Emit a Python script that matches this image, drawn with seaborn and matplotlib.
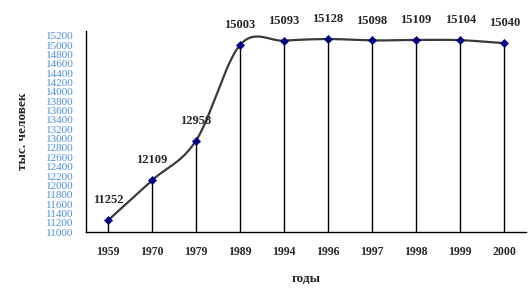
import numpy as np
import pandas as pd
import matplotlib
matplotlib.use("Agg")
import matplotlib.pyplot as plt
import seaborn as sns

years = ["1959", "1970", "1979", "1989", "1994", "1996", "1997", "1998", "1999", "2000"]
population = [11252, 12109, 12958, 15003, 15093, 15128, 15098, 15109, 15104, 15040]
y_ticks = list(range(11000, 15201, 200))

sns.set_style("white")
plt.rcParams["font.family"] = ["Liberation Serif", "DejaVu Serif"]

fig = plt.figure(figsize=(5.31, 2.98), dpi=100)
ax = fig.add_axes([0.162, 0.221, 0.829, 0.675])

idx = np.arange(len(years), dtype=float)
vals = np.array(population, dtype=float)

# Catmull-Rom smoothing (like a spreadsheet "smoothed line")
px = np.concatenate([[2 * idx[0] - idx[1]], idx, [2 * idx[-1] - idx[-2]]])
py = np.concatenate([[2 * vals[0] - vals[1]], vals, [2 * vals[-1] - vals[-2]]])
sx, sy = [], []
t = np.linspace(0, 1, 30)
for i in range(1, len(px) - 2):
    p0x, p1x, p2x, p3x = px[i - 1], px[i], px[i + 1], px[i + 2]
    p0y, p1y, p2y, p3y = py[i - 1], py[i], py[i + 1], py[i + 2]
    for arr, a, b, c, d in ((sx, p0x, p1x, p2x, p3x), (sy, p0y, p1y, p2y, p3y)):
        arr.extend(0.5 * ((2 * b) + (-a + c) * t + (2 * a - 5 * b + 4 * c - d) * t ** 2
                          + (-a + 3 * b - 3 * c + d) * t ** 3))
smooth = pd.DataFrame({"x": sx, "y": sy})
points = pd.DataFrame({"x": idx, "y": vals})

ax.vlines(idx, 11000, vals, color="black", lw=1.0, zorder=1)
sns.lineplot(data=smooth, x="x", y="y", ax=ax, color="#3a3a3a", lw=1.6, sort=False, zorder=2)
sns.scatterplot(data=points, x="x", y="y", ax=ax, marker="D", color="#000080",
                s=18, edgecolor="#000080", zorder=3)

for x, v in zip(idx, population):
    ax.annotate(str(v), (x, v), xytext=(0, 10), textcoords="offset points",
                ha="center", va="bottom", fontsize=9, fontweight="bold")

ax.set_xlim(-0.5, len(years) - 0.5)
ax.set_ylim(11000, 15300)
ax.set_xticks(idx)
ax.set_xticklabels(years, fontsize=8.5, fontweight="bold")
ax.set_xticks(np.arange(-0.5, len(years)), minor=True)
ax.tick_params(axis="x", which="major", length=0, pad=10)
ax.tick_params(axis="x", which="minor", length=4, width=1, direction="out", color="black")
ax.set_yticks(y_ticks)
ax.set_yticklabels([str(v) for v in y_ticks], fontsize=8, color="#4a8fdc")
ax.tick_params(axis="y", length=4, width=1, direction="out", color="black", pad=5)
ax.tick_params(bottom=False, which="major")

for s in ["top", "right"]:
    ax.spines[s].set_visible(False)
for s in ["left", "bottom"]:
    ax.spines[s].set_color("black")
    ax.spines[s].set_linewidth(1.0)

ax.set_xlabel("годы", fontsize=9.5, fontweight="bold", labelpad=11)
ax.set_ylabel("тыс. человек", fontsize=9.5, fontweight="bold", labelpad=12)
ax.grid(False)

fig.savefig("out.png", dpi=100)
